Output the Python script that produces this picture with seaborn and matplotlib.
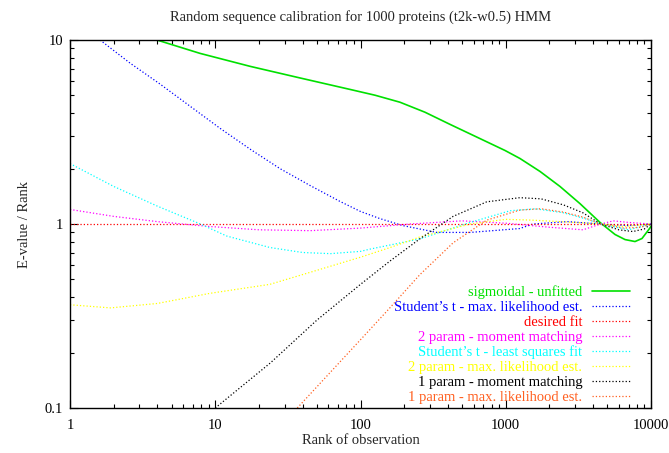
import numpy as np
import pandas as pd
import seaborn as sns
import matplotlib
matplotlib.use("Agg")
import matplotlib.pyplot as plt
from matplotlib.ticker import FixedLocator, FuncFormatter, LogLocator, NullFormatter

# values (rank, E-value/rank)
sig_x = [3.03, 3.97, 7.85, 17.4, 38.3, 84.5, 126, 187, 278, 413, 614, 988, 1253, 1722, 2362, 3245,
         4454, 5654, 6625, 7760, 8670, 9550, 10000]
sig_y = [10.78, 10.0, 8.46, 7.19, 6.22, 5.39, 5.01, 4.59, 4.05, 3.48, 3.0, 2.51, 2.27, 1.93, 1.60,
         1.29, 1.02, 0.877, 0.823, 0.803, 0.834, 0.922, 0.969]

stml_x = [1.3, 1.61, 2.59, 4.17, 6.7, 10.8, 17.4, 27.9, 44.9, 72.3, 100, 136, 196, 335, 570, 1250,
          1540, 2660, 4500, 7000, 10000]
stml_y = [12.0, 10.0, 7.49, 5.76, 4.37, 3.31, 2.55, 2.0, 1.62, 1.326, 1.17, 1.07, 0.98, 0.90, 0.90,
          0.945, 1.0, 1.03, 1.0, 0.98, 1.0]

fit_x = [1, 10000]
fit_y = [1.0, 1.0]

mm2_x = [1, 2, 4, 9, 20, 45, 100, 220, 500, 1000, 2000, 3400, 4500, 5500, 7000, 10000]
mm2_y = [1.2, 1.1, 1.03, 0.97, 0.93, 0.92, 0.95, 1.0, 1.04, 1.01, 0.96, 0.93, 1.0, 1.04, 1.02, 1.0]

stls_x = [1, 2, 4, 7.9, 12, 23.8, 40, 62, 100, 116, 256, 570, 1070, 1600, 2500, 3500, 4500, 7000, 10000]
stls_y = [2.13, 1.6, 1.25, 1.0, 0.86, 0.745, 0.70, 0.69, 0.71, 0.73, 0.83, 1.02, 1.18, 1.21, 1.15, 1.07, 1.0, 0.93, 1.0]

ml2_x = [1, 1.9, 4, 9.2, 23.8, 50, 100, 160, 256, 570, 1000, 1500, 3000, 4500, 6500, 10000]
ml2_y = [0.364, 0.35, 0.37, 0.42, 0.47, 0.56, 0.66, 0.745, 0.85, 1.0, 1.06, 1.05, 1.02, 1.0, 0.97, 1.0]

mm1_x = [10, 24, 50, 100, 160, 256, 434, 740, 1250, 1750, 2500, 3400, 4500, 6000, 7500, 9000, 10000]
mm1_y = [0.1, 0.176, 0.3, 0.47, 0.63, 0.83, 1.1, 1.32, 1.39, 1.37, 1.27, 1.15, 1.0, 0.93, 0.91, 0.94, 1.0]

ml1_x = [36.7, 100, 154, 256, 434, 740, 1250, 1750, 2500, 3400, 4500, 6500, 8500, 10000]
ml1_y = [0.1, 0.235, 0.34, 0.53, 0.79, 1.05, 1.19, 1.21, 1.16, 1.09, 1.0, 0.95, 0.96, 1.0]

series = [
    ("sigmoidal - unfitted", sig_x, sig_y, "#00e000", "-", 1.2),
    ("Student\u2019s t - max. likelihood est.", stml_x, stml_y, "#0000ff", ":", 0.9),
    ("desired fit", fit_x, fit_y, "#ff0000", ":", 0.9),
    ("2 param - moment matching", mm2_x, mm2_y, "#ff00ff", ":", 0.9),
    ("Student\u2019s t - least squares fit", stls_x, stls_y, "#00ffff", ":", 0.9),
    ("2 param - max. likelihood est.", ml2_x, ml2_y, "#ffff00", ":", 0.9),
    ("1 param - moment matching", mm1_x, mm1_y, "#000000", ":", 0.9),
    ("1 param - max. likelihood est.", ml1_x, ml1_y, "#ff6020", ":", 0.9),
]

sns.set_style("ticks")
plt.rcParams["font.family"] = ["Liberation Serif", "DejaVu Serif"]
plt.rcParams["font.size"] = 10.5

fig = plt.figure(figsize=(6.69, 4.53), dpi=100)
ax = fig.add_axes([70 / 669, 45 / 453, 581 / 669, 368 / 453])

for name, xs, ys, col, ls, lw in series:
    df = pd.DataFrame({"rank": xs, "ratio": ys})
    sns.lineplot(data=df, x="rank", y="ratio", color=col, linestyle=ls,
                 linewidth=lw, label=name, ax=ax, estimator=None, sort=False)

ax.set_xscale("log")
ax.set_yscale("log")
ax.set_xlim(1, 10000)
ax.set_ylim(0.1, 10)

fmt = FuncFormatter(lambda v, p: "%g" % v)
ax.xaxis.set_major_locator(FixedLocator([1, 10, 100, 1000, 10000]))
ax.yaxis.set_major_locator(FixedLocator([0.1, 1, 10]))
ax.xaxis.set_major_formatter(fmt)
ax.yaxis.set_major_formatter(fmt)
ax.xaxis.set_minor_locator(LogLocator(base=10, subs=np.arange(2, 10)))
ax.yaxis.set_minor_locator(LogLocator(base=10, subs=np.arange(2, 10)))
ax.xaxis.set_minor_formatter(NullFormatter())
ax.yaxis.set_minor_formatter(NullFormatter())
ax.tick_params(which="both", direction="in", top=True, right=True, width=0.8, colors="black")
ax.tick_params(which="major", length=6)
ax.tick_params(which="minor", length=3)
ax.tick_params(axis="x", which="major", pad=8)
ax.tick_params(axis="y", which="major", pad=5)
for s in ax.spines.values():
    s.set_linewidth(1.0)
    s.set_color("black")

ax.set_title("Random sequence calibration for 1000 proteins (t2k-w0.5) HMM", fontsize=10.5, pad=14)
ax.set_xlabel("Rank of observation", fontsize=10.5, labelpad=1)
ax.set_ylabel("E-value / Rank", fontsize=10.5, labelpad=10)

leg = ax.legend(loc="lower right", bbox_to_anchor=(0.972, 0.0), frameon=False,
                markerfirst=False, handlelength=2.6, handletextpad=0.7,
                labelspacing=0.11, borderaxespad=0.1, borderpad=0.2, fontsize=10.5)
for txt, (_, _, _, col, _, _) in zip(leg.get_texts(), series):
    txt.set_color(col)

fig.savefig("out.png", dpi=100)
